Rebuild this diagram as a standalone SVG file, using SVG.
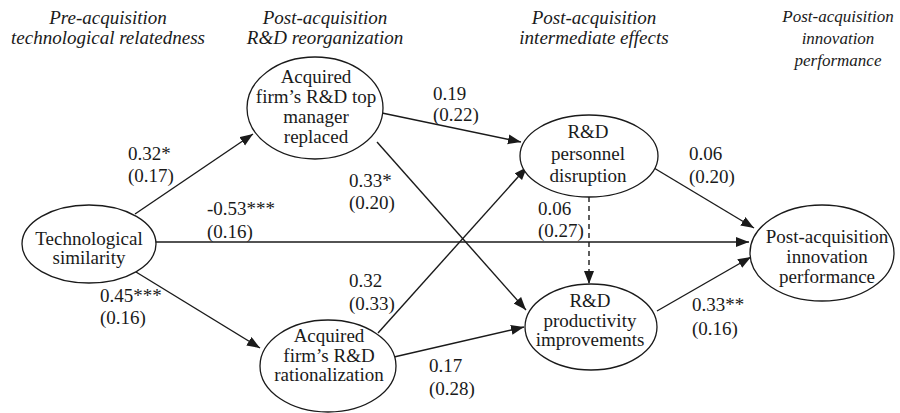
<svg xmlns="http://www.w3.org/2000/svg" width="900" height="413" viewBox="0 0 900 413">
  <defs>
    <marker id="arrow" markerUnits="userSpaceOnUse" markerWidth="14" markerHeight="11" refX="13" refY="5" orient="auto">
      <path d="M0,0 L13,5 L0,10 z" fill="#1a1a1a"/>
    </marker>
    <style>
      text { font-family: "Liberation Serif", "Times New Roman", serif; font-size: 19px; fill: #1a1a1a; }
      .hdr { font-style: italic; text-anchor: middle; }
      .lbl { text-anchor: middle; }
      .node ellipse { fill: #ffffff; stroke: #1a1a1a; stroke-width: 1.3; }
      .edge { stroke: #1a1a1a; stroke-width: 1.4; fill: none; marker-end: url(#arrow); }
      .dash { stroke-dasharray: 5 4; }
    </style>
  </defs>
  <rect width="900" height="413" fill="#ffffff"/>

  <!-- column headings -->
  <g id="headers">
    <text class="hdr" x="108" y="24">Pre-acquisition</text>
    <text class="hdr" x="108" y="44">technological relatedness</text>
    <text class="hdr" x="325" y="24">Post-acquisition</text>
    <text class="hdr" x="325" y="44">R&amp;D reorganization</text>
    <text class="hdr" x="594" y="24">Post-acquisition</text>
    <text class="hdr" x="594" y="44">intermediate effects</text>
    <text class="hdr" x="838" y="22" style="font-size:17px">Post-acquisition</text>
    <text class="hdr" x="838" y="44" style="font-size:17px">innovation</text>
    <text class="hdr" x="838" y="66" style="font-size:17px">performance</text>
  </g>

  <!-- paths between constructs -->
  <g id="connectors">
    <line class="edge" x1="135" y1="214" x2="253" y2="134"/>
    <line class="edge" x1="155" y1="242" x2="749" y2="242"/>
    <line class="edge" x1="136" y1="272" x2="260" y2="348"/>
    <line class="edge" x1="382" y1="113" x2="521" y2="142"/>
    <line class="edge" x1="377" y1="142" x2="526" y2="310"/>
    <line class="edge" x1="378" y1="333" x2="527" y2="167"/>
    <line class="edge" x1="394" y1="357" x2="524" y2="327"/>
    <line class="edge dash" x1="589" y1="197" x2="589" y2="284"/>
    <line class="edge" x1="654" y1="168" x2="754" y2="228"/>
    <line class="edge" x1="657" y1="311" x2="751" y2="257"/>

    <!-- path coefficients (standard errors) -->
    <text x="128" y="160">0.32*</text>
    <text x="128" y="182">(0.17)</text>
    <text x="207" y="215">-0.53***</text>
    <text x="207" y="238">(0.16)</text>
    <text x="100" y="302">0.45***</text>
    <text x="100" y="324">(0.16)</text>
    <text x="433" y="100">0.19</text>
    <text x="433" y="121">(0.22)</text>
    <text x="349" y="187">0.33*</text>
    <text x="349" y="209">(0.20)</text>
    <text x="349" y="287">0.32</text>
    <text x="349" y="310">(0.33)</text>
    <text x="429" y="372">0.17</text>
    <text x="429" y="395">(0.28)</text>
    <text x="538" y="215">0.06</text>
    <text x="538" y="237">(0.27)</text>
    <text x="689" y="160">0.06</text>
    <text x="689" y="183">(0.20)</text>
    <text x="692" y="311">0.33**</text>
    <text x="692" y="335">(0.16)</text>
  </g>

  <g id="tech-similarity" class="node">
    <ellipse cx="89" cy="244" rx="67" ry="39"/>
    <text class="lbl" x="89" y="245">Technological</text>
    <text class="lbl" x="89" y="264">similarity</text>
  </g>

  <g id="top-manager-replaced" class="node">
    <ellipse cx="315" cy="108" rx="68" ry="51"/>
    <text class="lbl" x="316" y="83">Acquired</text>
    <text class="lbl" x="316" y="103">firm’s R&amp;D top</text>
    <text class="lbl" x="316" y="123">manager</text>
    <text class="lbl" x="316" y="143">replaced</text>
  </g>

  <g id="rd-rationalization" class="node">
    <ellipse cx="328" cy="366" rx="68" ry="46"/>
    <text class="lbl" x="329" y="342">Acquired</text>
    <text class="lbl" x="329" y="362">firm’s R&amp;D</text>
    <text class="lbl" x="329" y="381">rationalization</text>
  </g>

  <g id="personnel-disruption" class="node">
    <ellipse cx="589" cy="156" rx="69" ry="41"/>
    <text class="lbl" x="588" y="138">R&amp;D</text>
    <text class="lbl" x="588" y="160">personnel</text>
    <text class="lbl" x="588" y="182">disruption</text>
  </g>

  <g id="productivity-improvements" class="node">
    <ellipse cx="591" cy="327" rx="66" ry="43"/>
    <text class="lbl" x="590" y="307">R&amp;D</text>
    <text class="lbl" x="590" y="327">productivity</text>
    <text class="lbl" x="590" y="346">improvements</text>
  </g>

  <g id="innovation-performance" class="node">
    <ellipse cx="822" cy="253" rx="72" ry="48"/>
    <text class="lbl" x="827" y="243">Post-acquisition</text>
    <text class="lbl" x="827" y="263">innovation</text>
    <text class="lbl" x="827" y="283">performance</text>
  </g>
</svg>
